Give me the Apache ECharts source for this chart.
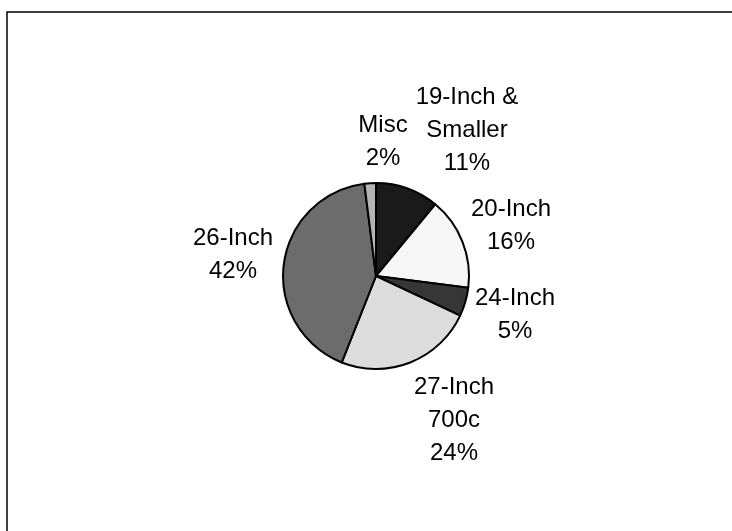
<!DOCTYPE html>
<html lang="en">
<head>
    <meta charset="UTF-8">
    <title>Bike sizes</title>
    <script src="https://cdn.jsdelivr.net/npm/echarts@6/dist/echarts.min.js"></script>
</head>
<style>
    *{
        margin: 0;
        padding: 0;
    }
    html,body{
        width: 100%;
        height: 100%;
        overflow: hidden;
        background: #fff;
    }
    .container{
        width: 732px;
        height: 531px;
    }
</style>
<body>
<div class="container"></div>
<script>
   // slices, clockwise from 12 o'clock
   let names = ['19-Inch &\nSmaller', '20-Inch', '24-Inch', '27-Inch\n700c', '26-Inch', 'Misc'];
   let values = [11, 16, 5, 24, 42, 2];
   let colors = ['#1a1a1a', '#f6f6f6', '#363636', '#dcdcdc', '#6c6c6c', '#b4b4b4'];

   // where each label sits (centre of the text block)
   let labelSpots = [[467, 130], [511, 226], [515, 315], [454, 420], [233, 255], [383, 142]];

   let container = document.querySelector('.container');
   let mycharts = echarts.init(container);

   let data = names.map((name, i) => ({
       name,
       value: values[i],
       itemStyle: {color: colors[i]}
   }));

   let options = {
       backgroundColor: '#fff',
       animation: false,
       graphic: [{
           type: 'rect',
           shape: {x: 7, y: 12, width: 800, height: 600},
           style: {fill: 'none', stroke: '#000', lineWidth: 1.5}
       }],
       series: [{
           type: 'pie',
           center: [376, 276],
           radius: 93,
           startAngle: 90,
           clockwise: true,
           avoidLabelOverlap: false,
           itemStyle: {borderColor: '#000', borderWidth: 2},
           label: {
               show: true,
               position: 'outside',
               formatter: p => p.name + '\n' + p.value + '%',
               fontFamily: 'Liberation Sans, Arial',
               fontSize: 24,
               lineHeight: 33,
               color: '#000',
               align: 'center'
           },
           labelLine: {show: false},
           labelLayout: function (params) {
               let s = labelSpots[params.dataIndex];
               return {
                   x: s[0],
                   y: s[1],
                   align: 'center',
                   verticalAlign: 'middle'
               };
           },
           emphasis: {disabled: true},
           data
       }]
   };

   mycharts.setOption(options);
</script>
</body>
</html>
